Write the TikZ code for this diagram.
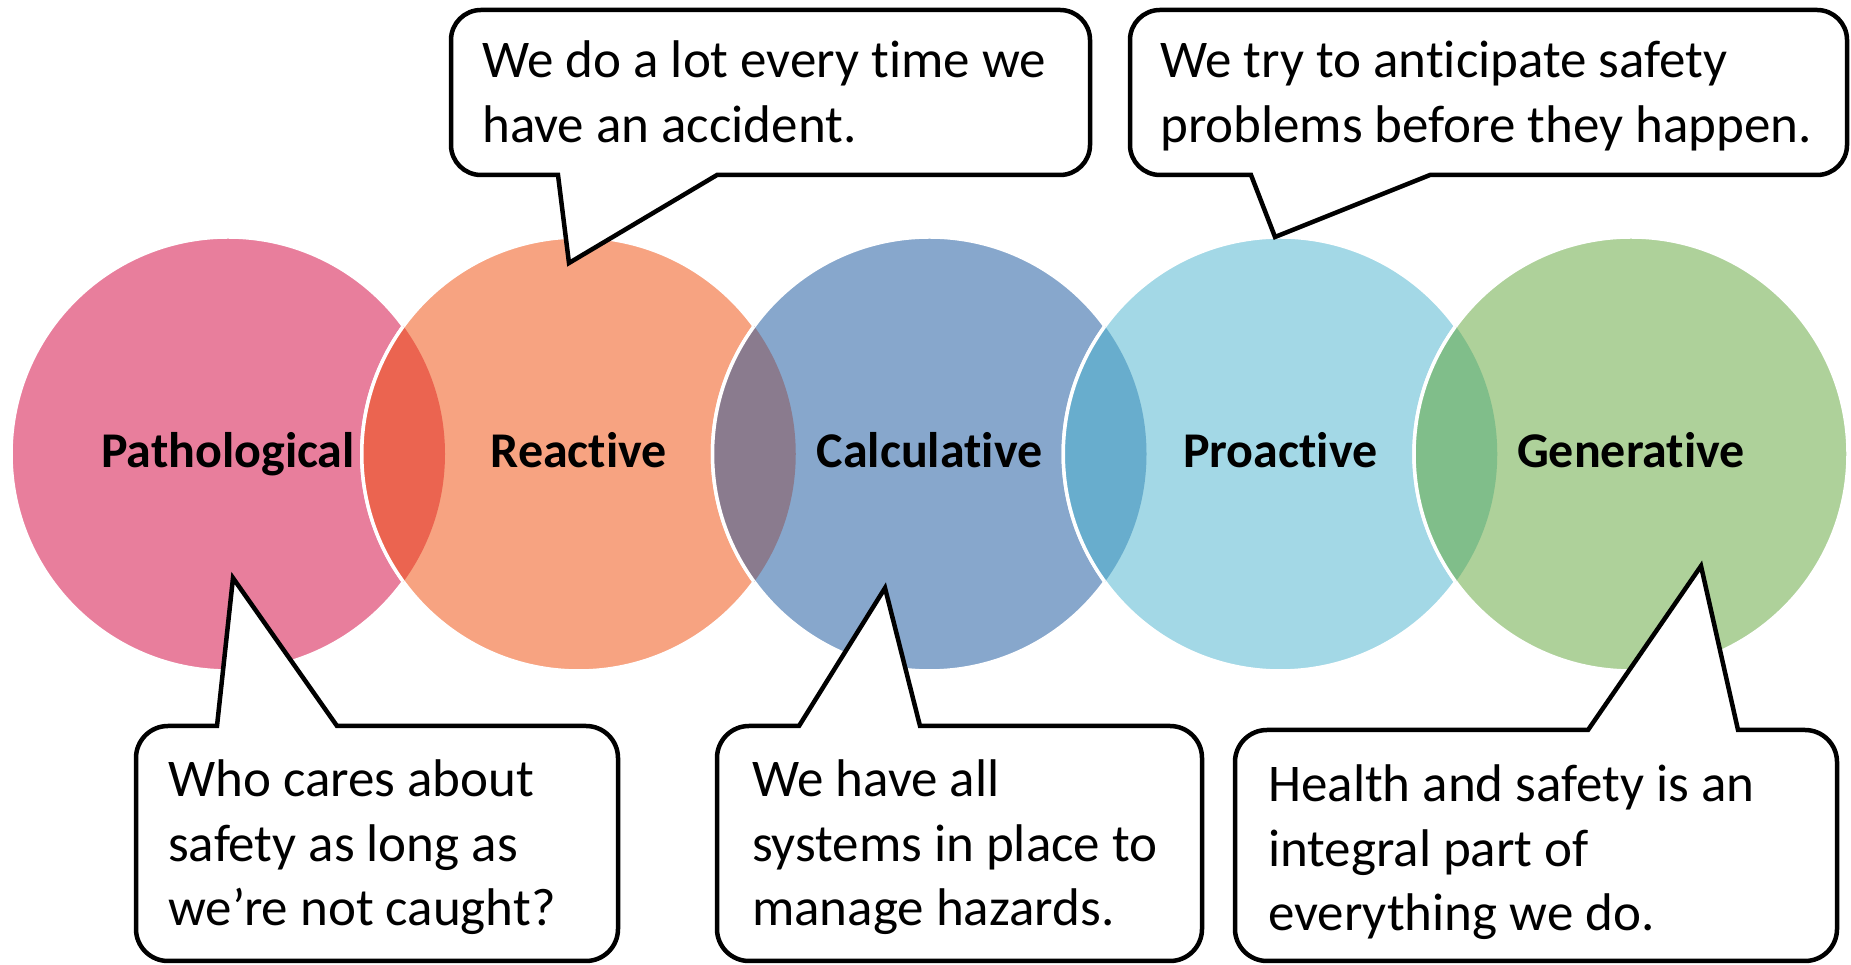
\documentclass[tikz,border=0pt]{standalone}
\usepackage{fontspec}
\setmainfont{Carlito}[Ligatures=NoCommon]
\definecolor{cpath}{HTML}{E87E9C}
\definecolor{creac}{HTML}{F7A381}
\definecolor{ccalc}{HTML}{87A7CC}
\definecolor{cproa}{HTML}{A3D8E6}
\definecolor{cgene}{HTML}{AED19A}
\definecolor{lensA}{HTML}{EB6450}
\definecolor{lensB}{HTML}{8A7B8E}
\definecolor{lensC}{HTML}{68ADCD}
\definecolor{lensD}{HTML}{80BE8A}
\begin{document}
\begin{tikzpicture}[x=1pt,y=1pt,
  disc/.style={circle,inner sep=0pt,minimum size=434pt,draw=white,line width=3.5pt},
  stage/.style={font=\fontsize{50}{60}\selectfont\bfseries,inner sep=0pt,anchor=base},
  callout/.style={draw=black,fill=white,line width=4.5pt,line join=miter},
  saying/.style={font=\fontsize{53}{64.5}\selectfont,align=left,inner sep=0pt,anchor=base west}]
\useasboundingbox (0,0) rectangle (1851,965);
% circles
\node[disc,fill=cpath] (c1) at (228,511) {};
\node[disc,fill=creac] (c2) at (578.75,511) {};
\node[disc,fill=ccalc] (c3) at (929.5,511) {};
\node[disc,fill=cproa] (c4) at (1280.25,511) {};
\node[disc,fill=cgene] (c5) at (1631,511) {};
% overlaps
\foreach \a/\b/\lc in {228/578.75/lensA,578.75/929.5/lensB,929.5/1280.25/lensC,1280.25/1631/lensD}{
  \begin{scope}
    \clip (\a,511) circle[radius=217pt];
    \fill[\lc] (\b,511) circle[radius=217pt];
    \draw[white,line width=3.5pt] (\b,511) circle[radius=217pt];
  \end{scope}
}
% labels
\node[stage] (l1) at (228,497) {Pathological};
\node[stage] (l2) at (578.75,497) {Reactive};
\node[stage] (l3) at (929.5,497) {Calculative};
\node[stage] (l4) at (1280.25,497) {Proactive};
\node[stage] (l5) at (1631,497) {Generative};
% top callouts
\draw[callout] (717,790) -- (1060,790) arc[start angle=270,end angle=360,radius=30pt]
  -- (1090,925) arc[start angle=0,end angle=90,radius=30pt]
  -- (481,955) arc[start angle=90,end angle=180,radius=30pt]
  -- (451,820) arc[start angle=180,end angle=270,radius=30pt]
  -- (558,790) -- (569,702) -- cycle;
\draw[callout] (1430,790) -- (1817,790) arc[start angle=270,end angle=360,radius=30pt]
  -- (1847,925) arc[start angle=0,end angle=90,radius=30pt]
  -- (1160,955) arc[start angle=90,end angle=180,radius=30pt]
  -- (1130,820) arc[start angle=180,end angle=270,radius=30pt]
  -- (1251,790) -- (1275,728) -- cycle;
% bottom callouts
\draw[callout] (217,239) -- (168,239) arc[start angle=90,end angle=180,radius=32pt]
  -- (136,36) arc[start angle=180,end angle=270,radius=32pt]
  -- (586,4) arc[start angle=270,end angle=360,radius=32pt]
  -- (618,207) arc[start angle=0,end angle=90,radius=32pt]
  -- (337,239) -- (233,387) -- cycle;
\draw[callout] (799,239) -- (749,239) arc[start angle=90,end angle=180,radius=32pt]
  -- (717,36) arc[start angle=180,end angle=270,radius=32pt]
  -- (1170,4) arc[start angle=270,end angle=360,radius=32pt]
  -- (1202,207) arc[start angle=0,end angle=90,radius=32pt]
  -- (920,239) -- (885,377) -- cycle;
\draw[callout] (1588,235) -- (1267,235) arc[start angle=90,end angle=180,radius=32pt]
  -- (1235,36) arc[start angle=180,end angle=270,radius=32pt]
  -- (1805,4) arc[start angle=270,end angle=360,radius=32pt]
  -- (1837,203) arc[start angle=0,end angle=90,radius=32pt]
  -- (1738,235) -- (1701,399) -- cycle;
% texts (anchor = baseline of the last line)
\node[saying] (t1) at (482,822.5) {We do a lot every time we\\have an accident.};
\node[saying] (t2) at (1160,822.5) {We try to anticipate safety\\problems before they happen.};
\node[saying] (b1) at (168,39) {Who cares about\\safety as long as\\we’re not caught?};
\node[saying] (b2) at (752,39) {We have all\\systems in place to\\manage hazards.};
\node[saying] (b3) at (1268,34) {Health and safety is an\\integral part of\\everything we do.};
\end{tikzpicture}
\end{document}
